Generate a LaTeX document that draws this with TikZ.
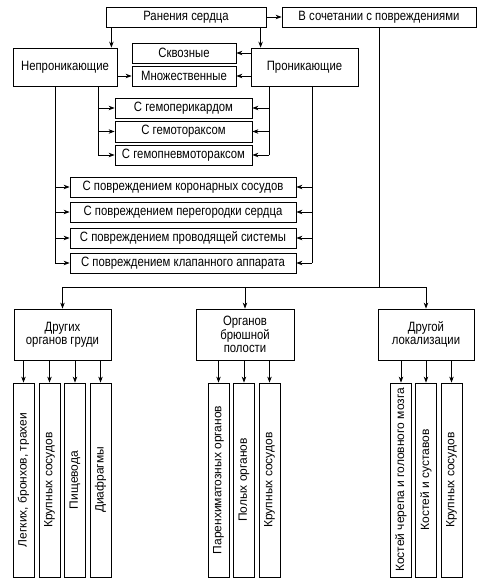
\documentclass[tikz,border=0pt]{standalone}
\usepackage{fontspec}
\setmainfont{Liberation Sans}[FakeStretch=0.84]
\newfontfamily\uprightFont{Liberation Sans}
\usetikzlibrary{arrows.meta}
\newcommand{\trunkArrows}[2]{%%
  \foreach \b in {#2}{
    \draw[arrowStyle] (\b.west -| #1) -- (\b.west);
  };
}
\newcommand{\trunkArrowsRight}[2]{%%
  \foreach \b in {#2}{
    \draw[arrowStyle] (\b.east -| #1) -- (\b.east);
  };
}
\newcommand{\downArrows}[2]{%%
  \foreach \b in {#2}{
    \draw[arrowStyle] (#1.south -| \b.east) -- (\b.east);
  };
}

\begin{document}
\begin{tikzpicture}[%%
  x=1pt,y=-1pt,
  lineStyle/.style={-,line width=0.8pt},%%
  arrowStyle/.style={-{Stealth[length=6pt,width=4.5pt]},line width=0.8pt},%%
  boxStyle/.style={draw,line width=0.8pt,inner sep=1pt,align=center,
    font=\fontsize{13.5}{13.4}\selectfont},%%
  upBox/.style={draw,line width=0.8pt,inner sep=1pt,rotate=90,
    minimum width=194pt,minimum height=21pt,
    font=\uprightFont\fontsize{12}{13}\selectfont}
]
%%
\useasboundingbox (0,0) rectangle (486,585);
%%
%% The top of the scheme.
\node[boxStyle,minimum width=160pt,minimum height=20pt] (wound) at (186,17) {Ранения сердца};
\node[boxStyle,minimum width=194pt,minimum height=20pt] (combined) at (379,17) {В сочетании с повреждениями};
\node[boxStyle,minimum width=104pt,minimum height=38pt] (nonpen) at (65,67) {Непроникающие};
\node[boxStyle,minimum width=107pt,minimum height=38pt] (pen) at (304.5,67) {Проникающие};
\node[boxStyle,minimum width=104pt,minimum height=20pt] (through) at (184,53) {Сквозные};
\node[boxStyle,minimum width=104pt,minimum height=20pt] (multi) at (184,76) {Множественные};
\draw[arrowStyle] (wound.east) -- (combined.west);
\draw[arrowStyle] ([xshift=-6pt]nonpen.north east |- wound.south) -- ([xshift=-6pt]nonpen.north east);
\draw[arrowStyle] ([xshift=10pt]pen.north west |- wound.south) -- ([xshift=10pt]pen.north west);
\draw[arrowStyle] (nonpen.east |- multi.west) -- (multi.west);
\draw[arrowStyle] (pen.west |- through.east) -- (through.east);
\draw[arrowStyle] (pen.west |- multi.east) -- (multi.east);
%%
%% Penetrating wounds with blood.
\node[boxStyle,minimum width=137pt,minimum height=20pt] (hemoper) at (183.5,108) {С гемоперикардом};
\node[boxStyle,minimum width=137pt,minimum height=21pt] (hemothor) at (183.5,131.5) {С гемотораксом};
\node[boxStyle,minimum width=137pt,minimum height=20pt] (hemopneu) at (183.5,155) {С гемопневмотораксом};
%%
%% Damage of the heart itself.
\node[boxStyle,minimum width=226pt,minimum height=20pt] (coronary) at (183,187) {С повреждением коронарных сосудов};
\node[boxStyle,minimum width=226pt,minimum height=20pt] (septum) at (183,212) {С повреждением перегородки сердца};
\node[boxStyle,minimum width=226pt,minimum height=20pt] (conduct) at (183,238) {С повреждением проводящей системы};
\node[boxStyle,minimum width=226pt,minimum height=20pt] (valve) at (183,263) {С повреждением клапанного аппарата};
%%
%% The four trunks.
\coordinate (trunkA) at (55,86);
\coordinate (trunkB) at (98,86);
\coordinate (trunkC) at (269,86);
\coordinate (trunkD) at (312,86);
\draw[lineStyle] (nonpen.south -| trunkA) -- (valve.west -| trunkA);
\draw[lineStyle] (nonpen.south -| trunkB) -- (hemopneu.west -| trunkB);
\draw[lineStyle] (pen.south -| trunkC) -- (hemopneu.east -| trunkC);
\draw[lineStyle] (pen.south -| trunkD) -- (valve.east -| trunkD);
\trunkArrows{trunkA}{coronary,septum,conduct,valve}
\trunkArrows{trunkB}{hemoper,hemothor,hemopneu}
\trunkArrowsRight{trunkC}{hemoper,hemothor,hemopneu}
\trunkArrowsRight{trunkD}{coronary,septum,conduct,valve}
%%
%% Combined wounds.
\node[boxStyle,minimum width=97pt,minimum height=51pt] (chest) at (62.5,334.5) {Других\\органов груди};
\node[boxStyle,minimum width=98pt,minimum height=51pt] (abdom) at (245,334.5) {Органов\\брюшной\\полости};
\node[boxStyle,minimum width=96pt,minimum height=51pt] (other) at (426,334.5) {Другой\\локализации};
\coordinate (split) at (379,287);
\draw[lineStyle] (combined.south) -- (split);
\draw[lineStyle] (chest.north |- split) -- (other.north |- split);
\foreach \b in {chest,abdom,other}{
  \draw[arrowStyle] (\b.north |- split) -- (\b.north);
};
%%
%% Organs of the chest.
\node[upBox] (lung) at (23.5,480) {Легких, бронхов, трахеи};
\node[upBox] (vesA) at (49.5,480) {Крупных сосудов};
\node[upBox] (esoph) at (75,480) {Пищевода};
\node[upBox] (diaph) at (100.5,480) {Диафрагмы};
\downArrows{chest}{lung,vesA,esoph,diaph}
%%
%% Organs of the abdomen.
\node[upBox] (parench) at (218.5,480) {Паренхиматозных органов};
\node[upBox] (hollow) at (244,480) {Полых органов};
\node[upBox] (vesB) at (269.5,480) {Крупных сосудов};
\downArrows{abdom}{parench,hollow,vesB}
%%
%% Other places.
\node[upBox] (skull) at (401,480) {Костей черепа и головного мозга};
\node[upBox] (joint) at (426,480) {Костей и суставов};
\node[upBox] (vesC) at (451.5,480) {Крупных сосудов};
\downArrows{other}{skull,joint,vesC}
\end{tikzpicture}
\end{document}
